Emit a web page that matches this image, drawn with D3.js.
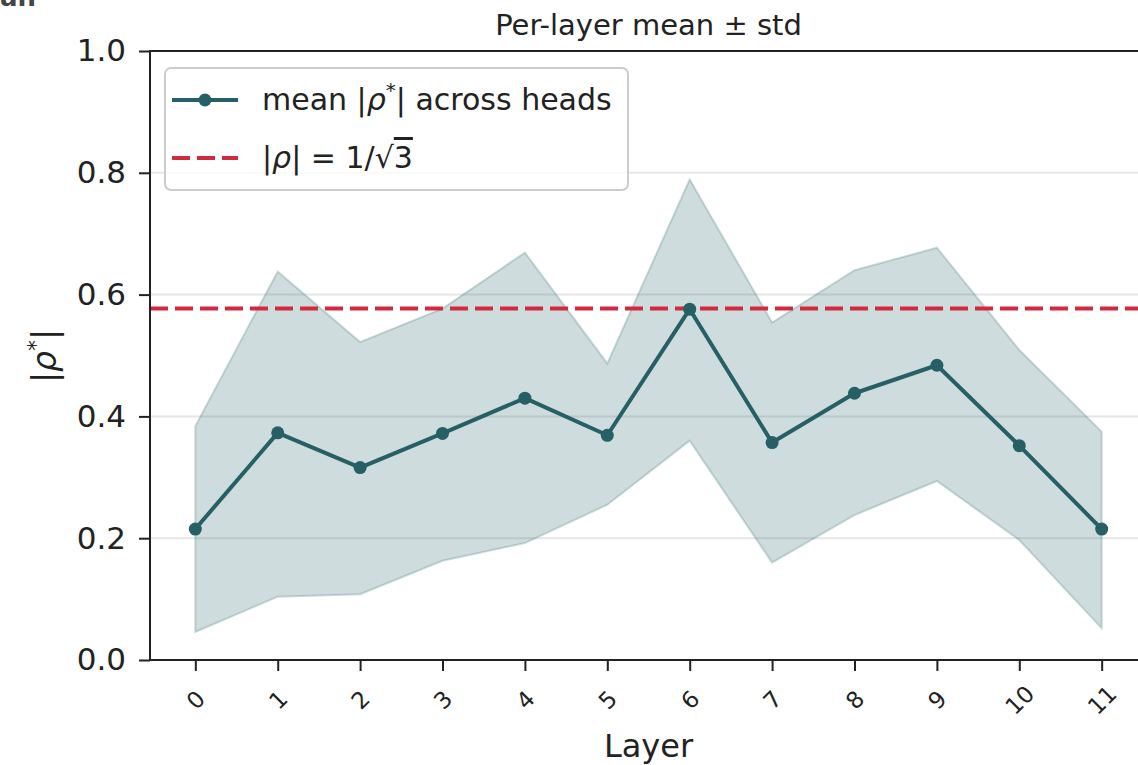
<!DOCTYPE html>
<html>
<head>
<meta charset="utf-8">
<script src="https://cdn.jsdelivr.net/npm/d3@7"></script>
<style>
  html, body { margin: 0; padding: 0; background: #fff; }
  svg { display: block; }
  text { font-family: "DejaVu Sans", sans-serif; }
</style>
</head>
<body>
<svg id="chart" width="1138" height="765"></svg>
<script>
// Per-layer statistics of |rho*| across attention heads
const layers = [0, 1, 2, 3, 4, 5, 6, 7, 8, 9, 10, 11];
const meanRho = [0.215, 0.373, 0.316, 0.372, 0.430, 0.369, 0.576, 0.357, 0.438, 0.484, 0.352, 0.215];
const upperRho = [0.384, 0.638, 0.522, 0.577, 0.669, 0.487, 0.789, 0.554, 0.640, 0.677, 0.509, 0.375];
const lowerRho = [0.046, 0.104, 0.108, 0.163, 0.192, 0.255, 0.360, 0.160, 0.238, 0.294, 0.197, 0.052];
const yTicks = [0.0, 0.2, 0.4, 0.6, 0.8, 1.0];
const refValue = 1 / Math.sqrt(3);

const lineColor = "#265f66";
const refColor = "#d1293d";

const svg = d3.select("#chart");
const plotL = 150, plotR = 1147, plotT = 51, plotB = 660;

const x = d3.scaleLinear().domain([-0.55, 11.55]).range([plotL, plotR]);
const y = d3.scaleLinear().domain([0, 1]).range([plotB, plotT]);

// horizontal grid
svg.append("g")
  .selectAll("line")
  .data(yTicks.slice(1, -1))
  .join("line")
  .attr("x1", plotL).attr("x2", plotR)
  .attr("y1", d => y(d)).attr("y2", d => y(d))
  .attr("stroke", "#e6e6e6").attr("stroke-width", 2);

// std band
const band = layers.map((l, i) => ({ l, lo: lowerRho[i], hi: upperRho[i] }));
svg.append("path")
  .datum(band)
  .attr("d", d3.area().x(d => x(d.l)).y0(d => y(d.lo)).y1(d => y(d.hi)))
  .attr("fill", lineColor).attr("fill-opacity", 0.22)
  .attr("stroke", lineColor).attr("stroke-opacity", 0.22).attr("stroke-width", 2);

// reference line |rho| = 1/sqrt(3)
svg.append("line")
  .attr("x1", plotL).attr("x2", plotR)
  .attr("y1", y(refValue)).attr("y2", y(refValue))
  .attr("stroke", refColor).attr("stroke-width", 4)
  .attr("stroke-dasharray", "18,7");

// mean line with markers
const pts = layers.map((l, i) => ({ l, v: meanRho[i] }));
svg.append("path")
  .datum(pts)
  .attr("d", d3.line().x(d => x(d.l)).y(d => y(d.v)))
  .attr("fill", "none").attr("stroke", lineColor).attr("stroke-width", 4)
  .attr("stroke-linejoin", "round");
svg.append("g").selectAll("circle")
  .data(pts).join("circle")
  .attr("cx", d => x(d.l)).attr("cy", d => y(d.v)).attr("r", 6.5)
  .attr("fill", lineColor);

// axes
const yAxis = d3.axisLeft(y).tickValues(yTicks).tickFormat(d3.format(".1f")).tickSize(11).tickPadding(13);
const gy = svg.append("g").attr("transform", `translate(${plotL},0)`).call(yAxis);
gy.select(".domain").remove();
gy.selectAll(".tick line").attr("stroke", "#222").attr("stroke-width", 2);
gy.selectAll(".tick text").attr("font-size", 31).attr("fill", "#222").attr("font-family", "DejaVu Sans");

const xAxis = d3.axisBottom(x).tickValues(layers).tickFormat(d3.format("d")).tickSize(11).tickPadding(0);
const gx = svg.append("g").attr("transform", `translate(0,${plotB})`).call(xAxis);
gx.select(".domain").remove();
gx.selectAll(".tick line").attr("stroke", "#222").attr("stroke-width", 2);
gx.selectAll(".tick text")
  .attr("font-size", 23).attr("fill", "#222").attr("font-family", "DejaVu Sans")
  .attr("dy", null).attr("y", 0)
  .attr("text-anchor", "middle").attr("dominant-baseline", "central")
  .attr("transform", "translate(0,40) rotate(-45)");

// spines (right edge runs past the canvas)
svg.append("path")
  .attr("d", `M${plotR},${plotT}H${plotL}V${plotB}H${plotR}`)
  .attr("fill", "none").attr("stroke", "#222").attr("stroke-width", 2);

// title and axis labels
svg.append("text").attr("x", (plotL + plotR) / 2).attr("y", 35)
  .attr("text-anchor", "middle").attr("font-size", 29).attr("fill", "#222")
  .text("Per-layer mean ± std");

svg.append("text").attr("x", (plotL + plotR) / 2).attr("y", 757)
  .attr("text-anchor", "middle").attr("font-size", 32).attr("fill", "#222")
  .text("Layer");

const yl = svg.append("text")
  .attr("transform", "translate(56,356) rotate(-90)")
  .attr("text-anchor", "middle").attr("font-size", 33).attr("fill", "#222");
yl.append("tspan").text("|");
yl.append("tspan").attr("font-style", "italic").text("ρ");
yl.append("tspan").attr("font-size", 22).attr("dy", -13).text("*");
yl.append("tspan").attr("dy", 13).text("|");

// partial heading from the neighbouring panel
svg.append("text").attr("x", 0).attr("y", 6)
  .attr("font-size", 26).attr("font-weight", "bold").attr("fill", "#444")
  .text("an");

// legend
const lg = svg.append("g");
lg.append("rect").attr("x", 165).attr("y", 68).attr("width", 463).attr("height", 122)
  .attr("rx", 6).attr("fill", "#fff").attr("fill-opacity", 0.8)
  .attr("stroke", "#cccccc").attr("stroke-width", 2);
lg.append("line").attr("x1", 172).attr("x2", 238).attr("y1", 100).attr("y2", 100)
  .attr("stroke", lineColor).attr("stroke-width", 4);
lg.append("circle").attr("cx", 205).attr("cy", 100).attr("r", 6.5).attr("fill", lineColor);
lg.append("line").attr("x1", 172).attr("x2", 238).attr("y1", 158).attr("y2", 158)
  .attr("stroke", refColor).attr("stroke-width", 4).attr("stroke-dasharray", "18,7");

const t1 = lg.append("text").attr("x", 262).attr("y", 110).attr("font-size", 30).attr("fill", "#222");
t1.append("tspan").text("mean |");
t1.append("tspan").attr("font-style", "italic").text("ρ");
t1.append("tspan").attr("font-size", 20).attr("dy", -13).text("*");
t1.append("tspan").attr("dy", 13).text("| across heads");

const t2 = lg.append("text").attr("x", 262).attr("y", 168).attr("font-size", 30).attr("fill", "#222");
t2.append("tspan").text("|");
t2.append("tspan").attr("font-style", "italic").text("ρ");
t2.append("tspan").text("| = 1/√");
t2.append("tspan").attr("text-decoration", "overline").text("3");
</script>
</body>
</html>
